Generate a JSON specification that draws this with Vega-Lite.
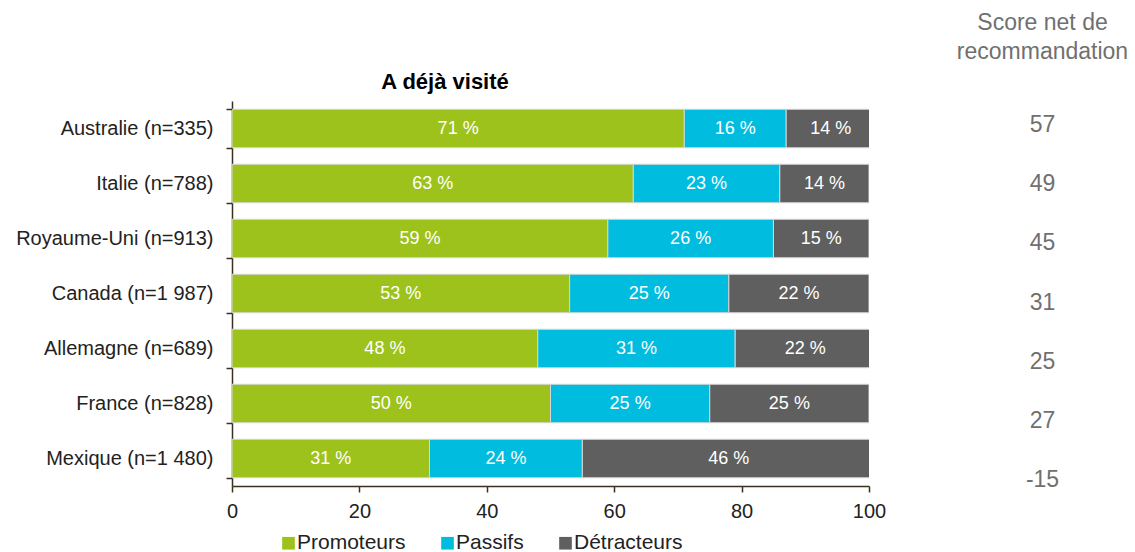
{
  "$schema": "https://vega.github.io/schema/vega-lite/v6.json",
  "background": "white",
  "padding": {"left": 15, "top": 12, "right": 0, "bottom": 0},
  "bounds": "flush",
  "spacing": 83.5,
  "resolve": {"scale": {"x": "independent", "y": "independent", "color": "independent"}},
  "config": {
    "font": "Liberation Sans",
    "view": {"stroke": null}
  },
  "hconcat": [
    {
      "width": 637,
      "height": 385,
      "title": {
        "text": "A déjà visité",
        "fontSize": 22,
        "fontWeight": "bold",
        "color": "#000000",
        "anchor": "middle",
        "frame": "group",
        "dx": -105.5,
        "offset": -25,
        "baseline": "bottom"
      },
      "data": {
        "values": [
          {"pays": "Australie (n=335)", "groupe": "Promoteurs", "pct": 71},
          {"pays": "Australie (n=335)", "groupe": "Passifs", "pct": 16},
          {"pays": "Australie (n=335)", "groupe": "Détracteurs", "pct": 14},
          {"pays": "Italie (n=788)", "groupe": "Promoteurs", "pct": 63},
          {"pays": "Italie (n=788)", "groupe": "Passifs", "pct": 23},
          {"pays": "Italie (n=788)", "groupe": "Détracteurs", "pct": 14},
          {"pays": "Royaume-Uni (n=913)", "groupe": "Promoteurs", "pct": 59},
          {"pays": "Royaume-Uni (n=913)", "groupe": "Passifs", "pct": 26},
          {"pays": "Royaume-Uni (n=913)", "groupe": "Détracteurs", "pct": 15},
          {"pays": "Canada (n=1 987)", "groupe": "Promoteurs", "pct": 53},
          {"pays": "Canada (n=1 987)", "groupe": "Passifs", "pct": 25},
          {"pays": "Canada (n=1 987)", "groupe": "Détracteurs", "pct": 22},
          {"pays": "Allemagne (n=689)", "groupe": "Promoteurs", "pct": 48},
          {"pays": "Allemagne (n=689)", "groupe": "Passifs", "pct": 31},
          {"pays": "Allemagne (n=689)", "groupe": "Détracteurs", "pct": 22},
          {"pays": "France (n=828)", "groupe": "Promoteurs", "pct": 50},
          {"pays": "France (n=828)", "groupe": "Passifs", "pct": 25},
          {"pays": "France (n=828)", "groupe": "Détracteurs", "pct": 25},
          {"pays": "Mexique (n=1 480)", "groupe": "Promoteurs", "pct": 31},
          {"pays": "Mexique (n=1 480)", "groupe": "Passifs", "pct": 24},
          {"pays": "Mexique (n=1 480)", "groupe": "Détracteurs", "pct": 46}
        ]
      },
      "transform": [
        {"calculate": "indexof(['Promoteurs', 'Passifs', 'Détracteurs'], datum.groupe)", "as": "ordre"},
        {"stack": "pct", "groupby": ["pays"], "sort": [{"field": "ordre", "order": "ascending"}], "as": ["debut", "fin"]},
        {"calculate": "(datum.debut + datum.fin) / 2", "as": "milieu"},
        {"calculate": "datum.pct + ' %'", "as": "etiquette"}
      ],
      "encoding": {
        "y": {
          "field": "pays",
          "type": "nominal",
          "sort": ["Australie (n=335)", "Italie (n=788)", "Royaume-Uni (n=913)", "Canada (n=1 987)", "Allemagne (n=689)", "France (n=828)", "Mexique (n=1 480)"],
          "scale": {"paddingInner": 0.3, "paddingOuter": 0.15},
          "axis": {
            "title": null,
            "labelFontSize": 20,
            "labelColor": "#222222",
            "labelPadding": 13,
            "labelLimit": 0,
            "tickSize": 6,
            "tickBand": "extent",
            "domainColor": "#3a3020",
            "tickColor": "#3a3020",
            "domainWidth": 1.5,
            "tickWidth": 1.5
          }
        }
      },
      "layer": [
        {
          "mark": {"type": "bar", "stroke": "#d6d6d6", "strokeWidth": 1, "clip": true},
          "encoding": {
            "x": {
              "field": "debut",
              "type": "quantitative",
              "scale": {"domain": [0, 100], "nice": false},
              "axis": {
                "title": null,
                "values": [0, 20, 40, 60, 80, 100],
                "grid": false,
                "labelFontSize": 20,
                "labelColor": "#222222",
                "labelPadding": 9,
                "labelFlush": false,
                "tickSize": 6,
                "domainColor": "#3a3020",
                "tickColor": "#3a3020",
                "domainWidth": 1.5,
                "tickWidth": 1.5
              }
            },
            "x2": {"field": "fin"},
            "color": {
              "field": "groupe",
              "type": "nominal",
              "scale": {
                "domain": ["Promoteurs", "Passifs", "Détracteurs"],
                "range": ["#9dc21b", "#00bde0", "#5f5f5f"]
              },
              "legend": {
                "orient": "none",
                "legendX": 46,
                "legendY": 431.5,
                "direction": "horizontal",
                "title": null,
                "padding": 0,
                "symbolType": "square",
                "symbolSize": 160,
                "symbolStrokeWidth": 0,
                "symbolOpacity": 1,
                "labelFontSize": 21,
                "labelColor": "#222222",
                "labelOffset": -2,
                "columnPadding": 31
              }
            }
          }
        },
        {
          "mark": {"type": "text", "fontSize": 18, "color": "#ffffff", "align": "center", "baseline": "middle"},
          "encoding": {
            "x": {"field": "milieu", "type": "quantitative"},
            "text": {"field": "etiquette", "type": "nominal"}
          }
        }
      ]
    },
    {
      "width": 180,
      "height": 385,
      "title": {
        "text": ["Score net de", "recommandation"],
        "fontSize": 23,
        "fontWeight": "normal",
        "color": "#707070",
        "anchor": "middle",
        "frame": "group",
        "lineHeight": 29,
        "offset": 14,
        "baseline": "bottom"
      },
      "data": {
        "values": [
          {"pays": "Australie (n=335)", "nps": 57},
          {"pays": "Italie (n=788)", "nps": 49},
          {"pays": "Royaume-Uni (n=913)", "nps": 45},
          {"pays": "Canada (n=1 987)", "nps": 31},
          {"pays": "Allemagne (n=689)", "nps": 25},
          {"pays": "France (n=828)", "nps": 27},
          {"pays": "Mexique (n=1 480)", "nps": -15}
        ]
      },
      "mark": {"type": "text", "fontSize": 23, "color": "#707070", "align": "center", "baseline": "middle"},
      "encoding": {
        "y": {
          "field": "pays",
          "type": "nominal",
          "sort": ["Australie (n=335)", "Italie (n=788)", "Royaume-Uni (n=913)", "Canada (n=1 987)", "Allemagne (n=689)", "France (n=828)", "Mexique (n=1 480)"],
          "scale": {"type": "point", "padding": 0.25, "align": 0.81},
          "axis": null
        },
        "text": {"field": "nps", "type": "nominal"}
      }
    }
  ]
}
